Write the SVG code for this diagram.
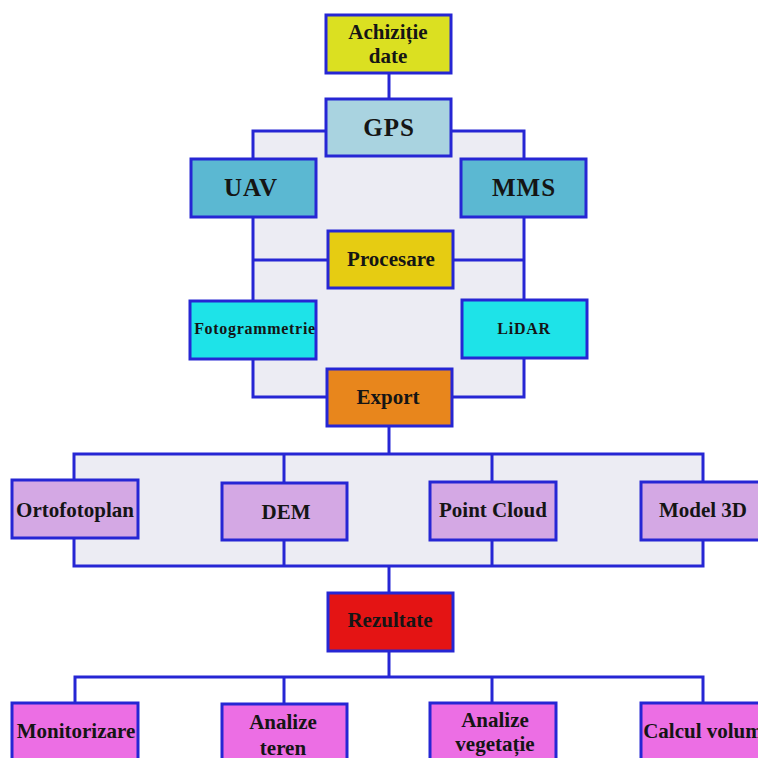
<svg xmlns="http://www.w3.org/2000/svg" width="758" height="758" viewBox="0 0 758 758">
<style>
.box{stroke:#2626d4;stroke-width:3}
.ln{stroke:#2626d4;stroke-width:3;fill:none}
text{font-family:"Liberation Serif","Times New Roman",serif;font-weight:bold;fill:#151515;text-anchor:middle}
.t21{font-size:21px}
.t25{font-size:25px;letter-spacing:1px}
.t16{font-size:16px;letter-spacing:0.7px}
</style>
<rect width="758" height="758" fill="#ffffff"/>
<rect x="253" y="131" width="271" height="266" fill="#ececf3"/>
<rect x="74" y="454" width="629" height="112" fill="#ececf3"/>
<g id="connectors">
<line class="ln" x1="389" y1="73" x2="389" y2="99"/>
<polyline class="ln" points="326,131 253,131 253,159"/>
<polyline class="ln" points="451,131 524,131 524,159"/>
<line class="ln" x1="253" y1="217" x2="253" y2="301"/>
<line class="ln" x1="524" y1="217" x2="524" y2="300"/>
<line class="ln" x1="253" y1="260" x2="328" y2="260"/>
<line class="ln" x1="453" y1="260" x2="524" y2="260"/>
<polyline class="ln" points="253,359 253,397 327,397"/>
<polyline class="ln" points="524,358 524,397 452,397"/>
<line class="ln" x1="389" y1="426" x2="389" y2="454"/>
<rect class="ln" x="74" y="454" width="629" height="112"/>
<line class="ln" x1="284" y1="454" x2="284" y2="483"/>
<line class="ln" x1="492" y1="454" x2="492" y2="482"/>
<line class="ln" x1="284" y1="540" x2="284" y2="566"/>
<line class="ln" x1="492" y1="540" x2="492" y2="566"/>
<line class="ln" x1="389" y1="566" x2="389" y2="593"/>
<line class="ln" x1="389" y1="651" x2="389" y2="677"/>
<polyline class="ln" points="75,704 75,677 703,677 703,704"/>
<line class="ln" x1="284" y1="677" x2="284" y2="704"/>
<line class="ln" x1="492" y1="677" x2="492" y2="704"/>
</g>
<g id="achizitie"><rect class="box" x="326" y="15" width="125" height="58" fill="#dbe021"/><text class="t21" x="388" y="39">Achiziție</text><text class="t21" x="388" y="63">date</text></g>
<g id="gps"><rect class="box" x="326" y="99" width="125" height="57" fill="#a9d3e0"/><text class="t25" x="389" y="136">GPS</text></g>
<g id="uav"><rect class="box" x="191" y="159" width="125" height="58" fill="#5bb8d2"/><text class="t25" x="251" y="196">UAV</text></g>
<g id="mms"><rect class="box" x="461" y="159" width="125" height="58" fill="#5bb8d2"/><text class="t25" x="524" y="196">MMS</text></g>
<g id="procesare"><rect class="box" x="328" y="231" width="125" height="57" fill="#e6cc12"/><text class="t21" x="391" y="266">Procesare</text></g>
<g id="fotogrammetrie"><rect class="box" x="190" y="301" width="126" height="58" fill="#1ee3e8"/><text class="t16" x="255" y="334">Fotogrammetrie</text></g>
<g id="lidar"><rect class="box" x="462" y="300" width="125" height="58" fill="#1ee3e8"/><text class="t16" x="524" y="334">LiDAR</text></g>
<g id="export"><rect class="box" x="327" y="369" width="125" height="57" fill="#e8861c"/><text class="t21" x="388" y="404">Export</text></g>
<g id="ortofotoplan"><rect class="box" x="12" y="480" width="126" height="58" fill="#d4a8e4"/><text class="t21" x="75" y="517">Ortofotoplan</text></g>
<g id="dem"><rect class="box" x="222" y="483" width="125" height="57" fill="#d4a8e4"/><text class="t21" x="286" y="519">DEM</text></g>
<g id="pointcloud"><rect class="box" x="430" y="482" width="126" height="58" fill="#d4a8e4"/><text class="t21" x="493" y="517">Point Cloud</text></g>
<g id="model3d"><rect class="box" x="641" y="482" width="125" height="58" fill="#d4a8e4"/><text class="t21" x="703" y="517">Model 3D</text></g>
<g id="rezultate"><rect class="box" x="328" y="593" width="125" height="58" fill="#e41414"/><text class="t21" x="390" y="627">Rezultate</text></g>
<g id="monitorizare"><rect class="box" x="12" y="703" width="126" height="60" fill="#ec6ee4"/><text class="t21" x="76" y="738">Monitorizare</text></g>
<g id="analizeteren"><rect class="box" x="222" y="704" width="125" height="60" fill="#ec6ee4"/><text class="t21" x="283" y="729">Analize</text><text class="t21" x="283" y="755">teren</text></g>
<g id="analizevegetatie"><rect class="box" x="430" y="703" width="126" height="60" fill="#ec6ee4"/><text class="t21" x="495" y="727">Analize</text><text class="t21" x="495" y="751">vegetație</text></g>
<g id="calculvolum"><rect class="box" x="641" y="703" width="125" height="60" fill="#ec6ee4"/><text class="t21" x="703" y="738">Calcul volum</text></g>
</svg>
